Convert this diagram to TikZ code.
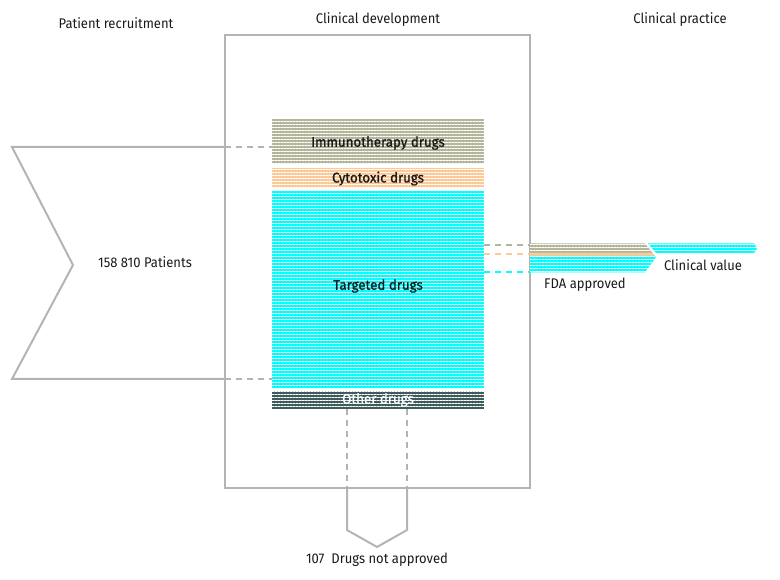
\documentclass[tikz,border=0pt]{standalone}
\usepackage{fontspec}
\setmainfont{Fira Sans}[FakeStretch=0.93]
\newfontfamily\medfont{Fira Sans}[FakeStretch=0.95, FakeBold=1.2]
\usetikzlibrary{patterns.meta}
\definecolor{lgray}{HTML}{B4B4B4}
\definecolor{khaki}{HTML}{B5B59C}
\definecolor{orng}{HTML}{FDC996}
\definecolor{cyn}{HTML}{00FFFF}
\definecolor{dteal}{HTML}{3E5C5C}
\definecolor{txt}{HTML}{1A1A1A}
\tikzset{
  frame/.style={draw=lgray, line width=2pt, line join=miter},
  dashline/.style={draw=lgray, line width=2pt, dash pattern=on 6pt off 5pt},
  stripes/.style={preaction={fill=#1}, pattern={Lines[angle=0,distance=3pt,line width=0.45pt]}, pattern color=white},
  barfont/.style={font=\fontsize{14}{16}\selectfont\medfont},
  bar/.style={stripes=#1, inner sep=0pt, minimum width=212pt},
  lbl/.style={font=\fontsize{14}{16}\selectfont, text=txt, inner sep=0pt},
}
\begin{document}
\begin{tikzpicture}[x=1pt,y=-1pt]
\useasboundingbox (0,0) rectangle (780,580);
% titles
\node[lbl] (t1) at (116,23) {Patient recruitment};
\node[lbl] (t2) at (378,20) {Clinical development};
\node[lbl] (t3) at (680,20) {Clinical practice};
% development box
\draw[frame] (225,35) rectangle (530,488);
% patients chevron
\coordinate (pt) at (225,147);
\coordinate (pb) at (225,379);
\draw[frame] (pt) -- (12,147) -- (73,265) -- (12,379) -- (pb);
\node[lbl] (pat) at (145,262) {158 810 Patients};
% bars
\node[bar=khaki, minimum height=45pt] (imm) at (378,141.5) {};
\node[bar=orng, minimum height=20pt] (cyt) at (378,178) {};
\node[bar=cyn, minimum height=197pt] (tar) at (378,289.5) {};
\node[bar=dteal, minimum height=18pt] (oth) at (378,400) {};
\node[lbl, barfont] (imml) at (378,143) {Immunotherapy drugs};
\node[lbl, barfont] (cytl) at (378,178.5) {Cytotoxic drugs};
\node[lbl, barfont] (tarl) at (378,286) {Targeted drugs};
\node[lbl, barfont, text=white] (othl) at (378,400) {Other drugs};
% dashed from chevron
\draw[dashline] (pt) -- (imm.west |- pt);
\draw[dashline] (pb) -- (tar.west |- pb);
% dashed down to not approved
\coordinate (nl) at (347,488);
\coordinate (nr) at (407,488);
\draw[dashline] (oth.south -| nl) -- (nl);
\draw[dashline] (oth.south -| nr) -- (nr);
\draw[frame] (nl) -- (347,530) -- (377,547) -- (407,530) -- (nr);
\node[lbl] (na) at (377,560) {107\ \ Drugs not approved};
% to FDA approved
\coordinate (fk) at (530,245);
\coordinate (fo) at (530,254);
\coordinate (fc) at (530,272);
\draw[dashline, draw=khaki] (tar.east |- fk) -- (fk);
\draw[dashline, draw=orng] (tar.east |- fo) -- (fo);
\draw[dashline, draw=cyn] (tar.east |- fc) -- (fc);
\path[stripes=khaki] (530,243.5) -- (645,243.5) -- (652.6,253) -- (530,253) -- cycle;
\path[fill=orng] (530,253) -- (652.6,253) -- (655.2,256) -- (530,256) -- cycle;
\path[stripes=cyn] (530,256) -- (655.2,256) -- (656,257) -- (645,272.5) -- (530,272.5) -- cycle;
\node[lbl] (fda) at (585,285) {FDA approved};
% clinical value
\path[stripes=cyn] (648,243.5) -- (754,243.5) -- (757,248.2) -- (754,253) -- (656,253) -- cycle;
\node[lbl] (cv) at (703,265) {Clinical value};
\end{tikzpicture}
\end{document}
